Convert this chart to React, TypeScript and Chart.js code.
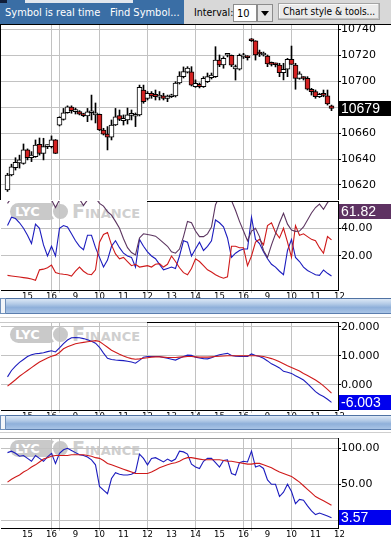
import React, { useEffect, useRef } from 'react';
import { Chart, registerables } from 'chart.js';
Chart.register(...registerables);

// ---------------- data ----------------
const open = [10616.2, 10627.7, 10633.3, 10637, 10636.7, 10647, 10641, 10641.8, 10651.4, 10644.4, 10649.5, 10649.5, 10654.7, 10666, 10670.6, 10675.7, 10680, 10676.5, 10676.5, 10673.7, 10673.2, 10675.7, 10674, 10674.5, 10662.4, 10659.3, 10656.8, 10666.2, 10673.4, 10669.6, 10670.1, 10673.7, 10673, 10674, 10693.2, 10686.8, 10690.7, 10689.9, 10687.6, 10688.8, 10686.8, 10688, 10688.6, 10698.6, 10703.5, 10707, 10707.3, 10695.8, 10697.6, 10695.8, 10699.6, 10702.7, 10703.5, 10716.3, 10712.5, 10720, 10720, 10709.4, 10709.2, 10718.7, 10718.4, 10732.3, 10731.2, 10721.5, 10720.2, 10719.4, 10713.3, 10713, 10712.5, 10706.6, 10709.2, 10716.9, 10712.5, 10702.2, 10702.5, 10702.2, 10693.8, 10691.9, 10688, 10689.3, 10688.8, 10681];
const high = [10629, 10636, 10641, 10643, 10651.6, 10647.8, 10645.7, 10654.7, 10656.2, 10656, 10651, 10657.8, 10655, 10672.6, 10679, 10681, 10681, 10679.3, 10677.3, 10675.3, 10679, 10689.3, 10683.2, 10674.7, 10663.7, 10665, 10670.1, 10679, 10677.8, 10674, 10679.3, 10677.8, 10675.5, 10697, 10697, 10692, 10692, 10693.2, 10692, 10690.7, 10689.3, 10690, 10699.6, 10707.3, 10711, 10711.2, 10711.2, 10701, 10698.6, 10703.5, 10706.3, 10706.3, 10726.6, 10720.2, 10718.9, 10721.5, 10720.2, 10712.5, 10721, 10721.5, 10719.7, 10732.9, 10731.2, 10724, 10722.5, 10720.2, 10714.8, 10714, 10713.8, 10713.8, 10717.6, 10727.1, 10713.8, 10707.3, 10703.5, 10703.5, 10694.5, 10693.2, 10690.7, 10693.2, 10693.2, 10681.6];
const low = [10615, 10627, 10631.5, 10633, 10636, 10639.3, 10638, 10641.3, 10643, 10639.3, 10648, 10648.5, 10644.2, 10665.5, 10670, 10675.3, 10675.3, 10674.7, 10674, 10672.6, 10668.8, 10670.1, 10667.8, 10661.9, 10658.5, 10647, 10654.7, 10665.8, 10669.6, 10666.2, 10667, 10670.1, 10665, 10673.2, 10683, 10685.5, 10686.8, 10685.5, 10685.5, 10685.5, 10684.2, 10687.4, 10687.8, 10697.8, 10702.5, 10706.3, 10696.3, 10695.2, 10694.8, 10695.2, 10699, 10701.7, 10702.9, 10711.2, 10710, 10718.7, 10711.2, 10700.9, 10708.6, 10717.5, 10716.3, 10730.6, 10716.3, 10719, 10719.4, 10711.2, 10711.7, 10711, 10703.5, 10701, 10703.5, 10713, 10693.8, 10701.5, 10700.9, 10693.2, 10689.3, 10686.8, 10687.4, 10688, 10681.6, 10677.3];
const close = [10627.7, 10634, 10637.5, 10639.3, 10647, 10641, 10643, 10650.8, 10644.4, 10649.5, 10650, 10654.7, 10644.4, 10672.2, 10675.7, 10680.3, 10677.3, 10677.8, 10674.5, 10673.4, 10676.3, 10676, 10675.7, 10662.4, 10659.1, 10656.8, 10666.2, 10672.6, 10670.6, 10671.4, 10674, 10674, 10673.2, 10695.3, 10684.2, 10690.7, 10688.6, 10688, 10689.3, 10686.8, 10688.6, 10689.3, 10698.6, 10704, 10707.5, 10710.2, 10697, 10698.4, 10695.8, 10702.2, 10703.5, 10704.8, 10716.3, 10712.5, 10717.6, 10720.2, 10712.3, 10711.2, 10720, 10720, 10718.1, 10731.2, 10720.2, 10721, 10721.5, 10713.3, 10713, 10712.7, 10706.6, 10709.2, 10716.9, 10713, 10702.2, 10705.6, 10702.1, 10693.8, 10691.9, 10688, 10689.9, 10689.1, 10682.4, 10679];

const dmiPlus = [42, 48, 47, 44, 40, 35, 29, 43, 40, 28, 20, 27, 20, 40, 42, 41, 36, 31, 27, 24.5, 35, 35, 26, 19, 12, 17, 27, 31, 26, 22, 20, 19, 12, 32, 27, 23, 20, 18, 14, 10, 11, 12, 11, 20, 31, 30, 20, 25, 30, 24, 27, 31, 46, 44, 41, 33, 19, 22, 24, 25, 25, 48, 32, 29, 23, 18, 14, 12, 9, 6.5, 24, 32, 19, 16, 12, 9.5, 8, 6.5, 6, 9.9, 7.5, 5.6];
const dmiMinus = [6, 5.6, 5.2, 4.8, 4.4, 4, 3.4, 2.5, 10, 10.5, 11.5, 13.4, 8, 7.2, 6.8, 6.5, 5.5, 9, 12, 9, 7, 6.5, 10, 30, 35.5, 37, 28, 21.5, 18, 19, 16, 13, 14, 12, 12.5, 13, 12, 14, 14.5, 12, 14, 20, 16, 11.5, 8, 6.5, 11, 18, 16, 13, 10, 8.5, 6.5, 5, 4, 5, 27, 27, 26, 26, 13, 20, 30, 32, 28, 42, 44, 37, 33, 40, 30, 19, 42, 35, 36, 34, 32, 31, 26, 22, 34, 31.6];
const adx = [58, 62, 66, 69, 71, 72, 72, 71, 70, 68, 64, 60.5, 55, 60.5, 64, 67, 68, 66, 61, 56.5, 60.5, 62, 62, 58, 56, 52, 49.5, 45, 40, 32.5, 26, 22.5, 20.8, 33, 36, 35.5, 35, 34.3, 32, 29.5, 27, 23, 22, 25, 34, 45, 44, 38, 34, 34, 36, 41, 57, 63, 66, 64, 60, 53, 45, 38, 31, 38, 40, 34, 24, 19, 28, 36, 44, 50.8, 43, 38.7, 37.8, 38, 41, 46, 51, 55, 57.5, 53.7, 58.5, 61.82];

const macd = [2.8, 5.0, 6.5, 7.8, 8.8, 9.8, 10.4, 10.8, 10.9, 11.1, 11.5, 11.8, 11.4, 12.8, 14.3, 15.5, 16.3, 16.4, 16.3, 16.0, 15.6, 15.1, 14.4, 13.0, 11.0, 9.2, 8.8, 8.6, 8.5, 8.4, 8.2, 7.9, 7.5, 8.5, 9.6, 9.8, 9.8, 9.8, 9.8, 9.5, 9.2, 8.9, 8.6, 9.2, 9.8, 10.3, 10.2, 9.6, 9.3, 9.1, 9.0, 9.4, 10.0, 10.4, 10.7, 10.9, 10.2, 9.9, 9.8, 9.8, 9.8, 10.7, 10.2, 9.8, 9.2, 8.3, 7.3, 6.6, 5.9, 4.7, 4.4, 4.0, 3.2, 2.5, 1.7, 0.5, -0.9, -2.3, -3.3, -4.0, -4.9, -6.003];
const macdSignal = [-0.4, 0.7, 1.8, 3.0, 4.0, 5.0, 6.0, 7.0, 7.9, 8.6, 9.3, 9.9, 10.3, 11.2, 12.5, 13.2, 13.7, 14.2, 14.5, 14.7, 14.9, 15.1, 15.3, 15.0, 14.0, 13.0, 12.0, 11.3, 10.6, 10.0, 9.5, 9.1, 8.9, 9.0, 9.2, 9.4, 9.6, 9.7, 9.7, 9.6, 9.5, 9.5, 9.5, 9.6, 9.7, 9.8, 9.8, 9.7, 9.6, 9.6, 9.6, 9.7, 9.8, 9.9, 10.0, 10.1, 10.1, 10.1, 10.1, 10.1, 10.1, 10.1, 10.1, 10.0, 9.8, 9.5, 9.1, 8.6, 8.0, 7.3, 6.6, 6.0, 5.4, 4.8, 4.0, 3.3, 2.5, 1.7, 0.8, -0.3, -1.5, -2.8];

const stochK = [94, 96, 93, 89, 90, 86, 82, 90, 86, 82, 88, 93, 79, 93, 98, 100, 97, 94, 91, 90, 88, 84, 77, 47, 42, 37, 58, 66, 64, 63, 63, 64, 67, 92, 86, 77, 86, 87, 84, 81, 85, 82, 85, 96, 95, 92, 78, 74, 72, 82, 86, 86, 80, 74, 83, 84, 65, 63, 80, 82, 81, 96, 74, 76, 72, 56, 50, 50, 33, 39, 50, 40, 23, 29, 28, 20, 13, 8, 10, 8, 6, 3.57];
const stochD = [53, 57, 60, 63, 67, 70, 74, 77, 81, 85, 87, 89, 90, 90, 90, 90, 91, 91, 91, 91, 90, 89, 87, 86, 83, 79, 77, 75, 73, 71, 69, 67, 65, 65, 65, 65, 67, 70, 73, 75, 77, 79, 80, 82, 85, 87, 87, 86, 85, 84, 84, 84, 84, 84, 83, 82, 82, 81, 80, 79, 78, 78, 79, 79, 77, 75, 73, 70, 67, 65, 63, 61, 57, 53, 48, 43, 38, 33, 30, 27, 24, 21];

// x-axis (bar index) tick positions and labels (hours)
const xTickPos = [5, 11, 13, 17, 23, 29, 35, 41, 47, 53, 59, 61, 65, 71, 77, 83];
const xTickLabels = ['15', '16', '', '9', '10', '11', '12', '13', '14', '15', '16', '', '9', '10', '11', '12'];
const xGridPos = [11, 13, 23, 35, 47, 59, 61, 71];

const priceTicks = [10620, 10640, 10660, 10680, 10700, 10720, 10740];
const dmiTicks = [20, 40];
const macdTicks = [0, 10, 20];
const stochTicks = [0, 50, 100];

// ---------------- config helpers ----------------
const W = 391;
const AXIS_W = 53;
const X_MIN = -1.625;
const X_MAX = 82.625;
const GRID = '#c2c2c2';
const AX_FONT = { family: '"DejaVu Sans", Verdana, sans-serif', size: 11 };
const X_FONT = { family: '"DejaVu Sans Condensed", "DejaVu Sans", sans-serif', size: 9.5 };
const BLUE = '#1c1cbe';
const RED = '#cf1a1a';
const PURPLE = '#5c3560';

const gridColor = (ctx: any) => {
  const v = ctx.tick ? ctx.tick.value : null;
  return xGridPos.indexOf(v) >= 0 ? GRID : 'rgba(0,0,0,0)';
};

function xScale(labelH: number) {
  return {
    type: 'linear',
    min: X_MIN,
    max: X_MAX,
    offset: false,
    afterBuildTicks: (s: any) => {
      s.ticks = xTickPos.map((v) => ({ value: v }));
    },
    afterFit: (s: any) => {
      s.height = labelH;
      s.paddingLeft = 0;
      s.paddingRight = 0;
    },
    grid: { offset: false, color: gridColor, tickColor: gridColor, tickLength: 3, drawTicks: labelH > 0, lineWidth: 1 },
    border: { display: labelH > 0, color: '#000', width: 1 },
    ticks: {
      display: labelH > 0,
      autoSkip: false,
      maxRotation: 0,
      minRotation: 0,
      padding: -2,
      color: '#000',
      font: X_FONT,
      callback: (_v: any, i: number) => xTickLabels[i],
    },
  };
}

function yScale(min: number, max: number, ticks: number[], fmt: (v: number) => string) {
  return {
    type: 'linear',
    position: 'right',
    min,
    max,
    stacked: false,
    afterBuildTicks: (s: any) => {
      s.ticks = ticks.map((v) => ({ value: v }));
    },
    afterFit: (s: any) => {
      s.width = AXIS_W;
      s.paddingTop = 0;
      s.paddingBottom = 0;
    },
    grid: { color: GRID, tickColor: '#000', tickLength: 3, lineWidth: 1 },
    border: { display: true, color: '#000', width: 1 },
    ticks: { color: '#000', padding: 0, font: AX_FONT, callback: (v: any) => fmt(Number(v)) },
  };
}

const valueBox = {
  id: 'valueBox',
  afterDraw(chart: any, _args: any, opts: any) {
    if (!opts || opts.value == null) return;
    const ys = chart.scales.y;
    const area = chart.chartArea;
    const h = 15;
    let cy = ys.getPixelForValue(opts.value);
    cy = Math.max(area.top + 10, Math.min(area.bottom - 8, cy));
    const ctx = chart.ctx;
    ctx.save();
    ctx.fillStyle = opts.bg;
    ctx.fillRect(ys.left + 1, Math.round(cy - h / 2), chart.width - ys.left - 1, h);
    ctx.fillStyle = opts.color;
    ctx.font = '14px "Liberation Sans", Arial, sans-serif';
    ctx.textBaseline = 'middle';
    ctx.textAlign = 'left';
    ctx.fillText(opts.label, ys.left + 3, Math.round(cy - h / 2) + h / 2 + 0.5);
    ctx.restore();
  },
};

const baseOptions = (scales: any, box: any, bottomPad = 0) => ({
  responsive: false,
  maintainAspectRatio: false,
  animation: false,
  devicePixelRatio: 1,
  events: [],
  layout: { padding: { left: 1, right: 0, top: 0, bottom: bottomPad } },
  plugins: { legend: { display: false }, tooltip: { enabled: false }, valueBox: box },
  scales,
});

const lineDs = (values: number[], color: string) => ({
  data: values.map((v, i) => ({ x: i, y: v })),
  borderColor: color,
  borderWidth: 1.1,
  pointRadius: 0,
  tension: 0,
  fill: false,
});

// ---------------- components ----------------
function Watermark({ top }: { top: number }) {
  return (
    <div style={{ position: 'absolute', left: 10, top, height: 17, display: 'flex', alignItems: 'center', pointerEvents: 'none' }}>
      <div style={{ background: '#c9c9c9', borderRadius: 9, height: 17, width: 48, color: '#fff', fontWeight: 'bold', fontSize: 13, lineHeight: '17px', paddingLeft: 5, boxSizing: 'border-box', fontFamily: '"DejaVu Sans", sans-serif' }}>LYC</div>
      <div style={{ width: 15, height: 15, borderRadius: 10, background: '#c9c9c9', marginLeft: -7, border: '2px solid #fff', boxSizing: 'content-box' }} />
      <div style={{ color: '#cfcfcf', fontWeight: 'bold', fontSize: 19, fontVariant: 'small-caps', marginLeft: 2, lineHeight: '17px', fontFamily: '"DejaVu Sans", sans-serif' }}>Finance</div>
    </div>
  );
}

function Separator({ top, height }: { top: number; height: number }) {
  return (
    <div style={{ position: 'absolute', left: 0, top, width: W, height }}>
      <div style={{ position: 'absolute', left: 0, top: 0, width: 6, height, background: '#f2f5f9', border: '1px solid #6f8fb9', boxSizing: 'border-box' }} />
      <div style={{ position: 'absolute', left: 6, top: 0, width: W - 6, height, boxSizing: 'border-box', borderTop: '1px solid #4f72a3', borderBottom: '1px solid #5b7eae', background: 'linear-gradient(#dbe7f5 0%, #b4cbe7 35%, #8fb0da 60%, #a9c4e6 100%)' }} />
    </div>
  );
}

export default function App() {
  const mainRef = useRef<HTMLCanvasElement>(null);
  const p1Ref = useRef<HTMLCanvasElement>(null);
  const p2Ref = useRef<HTMLCanvasElement>(null);
  const p3Ref = useRef<HTMLCanvasElement>(null);

  useEffect(() => {
    Chart.defaults.font.family = '"DejaVu Sans", sans-serif';
    const charts: Chart[] = [];
    const idx = open.map((_, i) => i);
    const last = idx.length - 1;

    charts.push(
      new Chart(mainRef.current as HTMLCanvasElement, {
        type: 'bar',
        data: {
          datasets: [
            {
              data: idx.map((i) => ({ x: i, y: [open[i], close[i]] })),
              backgroundColor: idx.map((i) => (close[i] >= open[i] ? '#ffffff' : '#d42222')),
              borderColor: '#000000',
              borderWidth: 1,
              borderSkipped: false,
              barThickness: 5,
              minBarLength: 2,
              stack: 'c',
              order: 1,
            } as any,
            {
              data: idx.map((i) => ({ x: i, y: [low[i], high[i]] })),
              backgroundColor: '#000000',
              borderWidth: 0,
              barThickness: 1,
              stack: 'c',
              order: 2,
            } as any,
          ],
        },
        options: baseOptions(
          { x: xScale(0), y: yScale(10608.4, 10744.1, priceTicks, (v) => v.toFixed(0)) },
          { value: close[last], label: close[last].toFixed(0), bg: '#000000', color: '#ffffff' }
        ) as any,
        plugins: [valueBox],
      })
    );

    charts.push(
      new Chart(p1Ref.current as HTMLCanvasElement, {
        type: 'line',
        data: { datasets: [lineDs(adx, PURPLE), lineDs(dmiMinus, RED), lineDs(dmiPlus, BLUE)] },
        options: baseOptions(
          { x: xScale(10), y: yScale(-4.55, 59.7, dmiTicks, (v) => v.toFixed(2)) },
          { value: adx[last], label: adx[last].toFixed(2), bg: '#5e3262', color: '#ffffff' }
        ) as any,
        plugins: [valueBox],
      })
    );

    charts.push(
      new Chart(p2Ref.current as HTMLCanvasElement, {
        type: 'line',
        data: { datasets: [lineDs(macdSignal, RED), lineDs(macd, BLUE)] },
        options: baseOptions(
          { x: xScale(12), y: yScale(-8.62, 21.72, macdTicks, (v) => v.toFixed(3)) },
          { value: macd[last], label: macd[last].toFixed(3), bg: '#0000ee', color: '#ffffff' }
        ) as any,
        plugins: [valueBox],
      })
    );

    charts.push(
      new Chart(p3Ref.current as HTMLCanvasElement, {
        type: 'line',
        data: { datasets: [lineDs(stochD, RED), lineDs(stochK, BLUE)] },
        options: baseOptions(
          { x: xScale(13), y: yScale(-10.7, 114.3, stochTicks, (v) => v.toFixed(2)) },
          { value: stochK[last], label: stochK[last].toFixed(2), bg: '#0000ee', color: '#ffffff' }
        ) as any,
        plugins: [valueBox],
      })
    );

    return () => charts.forEach((c) => c.destroy());
  }, []);

  const abs = (l: number, t: number, w: number, h: number, extra: any = {}) => ({ position: 'absolute' as const, left: l, top: t, width: w, height: h, ...extra });
  const cond = '"DejaVu Sans Condensed", "DejaVu Sans", sans-serif';

  return (
    <div style={{ position: 'fixed', left: 0, top: 0, width: W, height: 541, background: '#ffffff', overflow: 'hidden' }}>
      {/* toolbar */}
      <div style={abs(0, 0, 184, 24, { background: '#3a6ea5' })} />
      <div style={abs(184, 0, 207, 24, { background: '#d8d8d8' })} />
      <div style={abs(0, 0, 7, 3, { background: '#101e38' })} />
      <div style={abs(25, 0, 108, 3, { background: '#e2e7ee' })} />
      <div style={abs(5, 6, 110, 13, { color: '#fff', fontFamily: cond, fontSize: 11, lineHeight: '13px', whiteSpace: 'pre' })}>Symbol is real time</div>
      <div style={abs(110, 6, 80, 13, { color: '#fff', fontFamily: cond, fontSize: 11, lineHeight: '13px', whiteSpace: 'pre' })}>Find Symbol...</div>
      <div style={abs(194, 6, 40, 13, { color: '#000', fontFamily: cond, fontSize: 10.5, lineHeight: '13px', whiteSpace: 'pre' })}>Interval:</div>
      <div style={abs(233, 4, 24, 18, { background: '#fff', border: '1px solid #8c8c8c', boxSizing: 'border-box' })}>
        <div style={{ position: 'absolute', left: 3, top: 2, fontFamily: cond, fontSize: 11, lineHeight: '13px', color: '#000' }}>10</div>
      </div>
      <div style={abs(257, 4, 16, 18, { background: '#e4e4e4', border: '1px solid #8c8c8c', boxSizing: 'border-box' })}>
        <div style={{ position: 'absolute', left: 3, top: 6, width: 0, height: 0, borderLeft: '4px solid transparent', borderRight: '4px solid transparent', borderTop: '5px solid #000' }} />
      </div>
      <div style={abs(278, 3, 102, 17, { background: '#ebebeb', border: '1px solid #a4a4a4', boxSizing: 'border-box', boxShadow: 'inset -1px -1px 0 #c4c4c4, inset 1px 1px 0 #fafafa' })}>
        <div style={{ position: 'absolute', left: 4, top: 1, fontFamily: cond, fontSize: 10, lineHeight: '13px', color: '#000', whiteSpace: 'pre' }}>Chart style &amp; tools...</div>
      </div>

      {/* watermarks under the charts */}
      <Watermark top={203} />
      <Watermark top={326} />
      <Watermark top={440} />

      {/* charts */}
      <canvas ref={mainRef} width={W} height={176} style={abs(0, 24, W, 176)} />
      <canvas ref={p1Ref} width={W} height={99} style={abs(0, 201, W, 99)} />
      <canvas ref={p2Ref} width={W} height={100} style={abs(0, 322, W, 100)} />
      <canvas ref={p3Ref} width={W} height={103} style={abs(0, 438, W, 103)} />

      {/* borders */}
      <div style={abs(0, 24, W, 1, { background: '#000' })} />
      <div style={abs(0, 24, 1, 176, { background: '#000' })} />
      <div style={abs(147, 201, 191, 1, { background: '#000' })} />
      <div style={abs(0, 322, 147, 1, { background: '#c8c8c8' })} />
      <div style={abs(147, 322, 191, 1, { background: '#000' })} />
      <div style={abs(0, 438, 338, 1, { background: '#9a9a9a' })} />

      {/* separators */}
      <Separator top={298} height={16} />
      <div style={abs(0, 317, W, 1, { background: '#cfcfcf' })} />
      <Separator top={415} height={15} />
      <div style={abs(0, 432, W, 1, { background: '#cfcfcf' })} />
    </div>
  );
}
